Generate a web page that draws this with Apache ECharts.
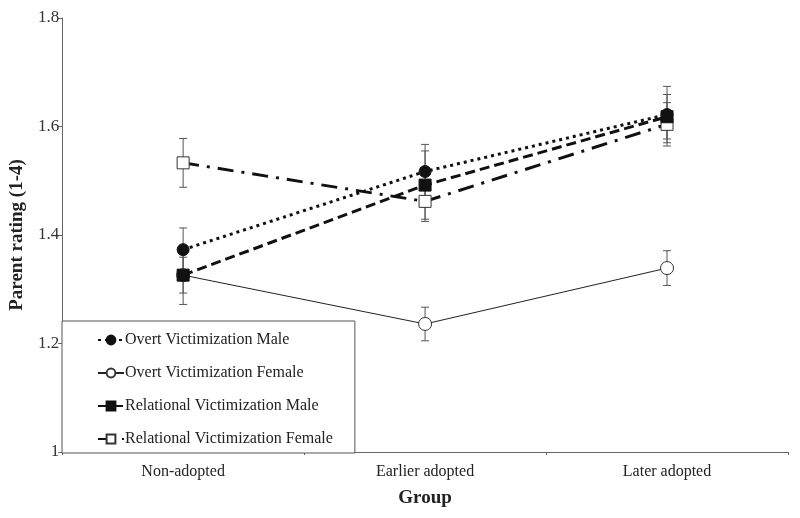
<!DOCTYPE html>
<html>
<head>
<meta charset="utf-8">
<script src="https://cdn.jsdelivr.net/npm/echarts@6/dist/echarts.min.js"></script>
<style>html,body{margin:0;padding:0;background:#fff;}#c{width:800px;height:518px;}</style>
</head>
<body>
<div id="c"></div>
<script>
var categories = ['Non-adopted', 'Earlier adopted', 'Later adopted'];
var seriesNames = ['Overt Victimization Male', 'Overt Victimization Female', 'Relational Victimization Male', 'Relational Victimization Female'];
var overtMale = [1.373, 1.517, 1.622];
var overtFemale = [1.326, 1.236, 1.339];
var relMale = [1.326, 1.492, 1.618];
var relFemale = [1.533, 1.462, 1.604];
var overtMaleErr = [0.040, 0.050, 0.052];
var overtFemaleErr = [0.054, 0.031, 0.032];
var relMaleErr = [0.033, 0.063, 0.041];
var relFemaleErr = [0.045, 0.037, 0.040];

var FONT = 'Liberation Serif';
var chart = echarts.init(document.getElementById('c'));

function errData(vals, errs) {
  return vals.map(function (v, i) { return [i, v - errs[i], v + errs[i]]; });
}
function errSeries(vals, errs) {
  return {
    type: 'custom',
    z: 1,
    silent: true,
    renderItem: function (params, api) {
      var x = api.value(0);
      var lo = api.coord([x, api.value(1)]);
      var hi = api.coord([x, api.value(2)]);
      var hw = 4;
      var st = { stroke: '#555', lineWidth: 1 };
      return {
        type: 'group',
        children: [
          { type: 'line', shape: { x1: lo[0], y1: lo[1], x2: hi[0], y2: hi[1] }, style: st },
          { type: 'line', shape: { x1: lo[0] - hw, y1: lo[1], x2: lo[0] + hw, y2: lo[1] }, style: st },
          { type: 'line', shape: { x1: hi[0] - hw, y1: hi[1], x2: hi[0] + hw, y2: hi[1] }, style: st }
        ]
      };
    },
    encode: { x: 0, y: [1, 2] },
    data: errData(vals, errs)
  };
}

var option = {
  animation: false,
  backgroundColor: '#fff',
  grid: { left: 62, right: 12, top: 18, bottom: 66 },
  legend: {
    orient: 'vertical',
    left: 62,
    top: 321,
    padding: [11, 22, 6, 35],
    itemGap: 17,
    itemWidth: 26,
    itemHeight: 11,
    borderColor: '#555',
    borderWidth: 1,
    backgroundColor: '#fff',
    textStyle: { fontFamily: FONT, fontSize: 16, color: '#222', padding: [0, 0, 0, -4] },
    data: seriesNames,
    z: 10
  },
  xAxis: {
    type: 'category',
    data: categories,
    boundaryGap: true,
    axisLine: { lineStyle: { color: '#666', width: 1 } },
    axisTick: { show: true, length: 3, lineStyle: { color: '#666' } },
    axisLabel: { fontFamily: FONT, fontSize: 16, color: '#222', margin: 12 },
    name: 'Group',
    nameLocation: 'middle',
    nameGap: 37,
    nameTextStyle: { fontFamily: FONT, fontSize: 19, fontWeight: 'bold', color: '#222' }
  },
  yAxis: {
    type: 'value',
    min: 1,
    max: 1.8,
    interval: 0.2,
    splitLine: { show: false },
    axisLine: { show: true, lineStyle: { color: '#666', width: 1 } },
    axisTick: { show: true, length: 4, lineStyle: { color: '#666' } },
    axisLabel: { fontFamily: FONT, fontSize: 17, color: '#333', margin: 3 },
    name: 'Parent rating (1-4)',
    nameLocation: 'middle',
    nameGap: 34,
    nameRotate: 90,
    nameTextStyle: { fontFamily: FONT, fontSize: 19, fontWeight: 'bold', color: '#222' }
  },
  series: [
    errSeries(overtFemale, overtFemaleErr),
    errSeries(relMale, relMaleErr),
    errSeries(overtMale, overtMaleErr),
    errSeries(relFemale, relFemaleErr),
    {
      name: seriesNames[1], type: 'line', data: overtFemale, z: 3,
      symbol: 'circle', symbolSize: 13,
      lineStyle: { color: '#222', width: 1, type: 'solid' },
      itemStyle: { color: '#fff', borderColor: '#333', borderWidth: 1 }
    },
    {
      name: seriesNames[3], type: 'line', data: relFemale, z: 3,
      symbol: 'rect', symbolSize: 12,
      lineStyle: { color: '#111', width: 3, type: [16, 8, 3, 8] },
      itemStyle: { color: '#fff', borderColor: '#333', borderWidth: 1 }
    },
    {
      name: seriesNames[2], type: 'line', data: relMale, z: 4,
      symbol: 'rect', symbolSize: 12,
      lineStyle: { color: '#111', width: 3, type: [10, 5] },
      itemStyle: { color: '#111', borderColor: '#111', borderWidth: 1 }
    },
    {
      name: seriesNames[0], type: 'line', data: overtMale, z: 5,
      symbol: 'circle', symbolSize: 12,
      lineStyle: { color: '#111', width: 3, type: [3, 4] },
      itemStyle: { color: '#111', borderColor: '#111', borderWidth: 1 }
    }
  ]
};
chart.setOption(option);
</script>
</body>
</html>
